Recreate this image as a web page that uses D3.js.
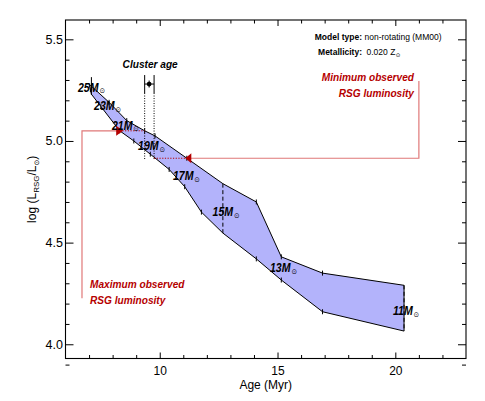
<!DOCTYPE html>
<html>
<head>
<meta charset="utf-8">
<script src="https://cdn.jsdelivr.net/npm/d3@7"></script>
<style>
  body { margin: 0; background: #fff; }
  svg { font-family: "Liberation Sans", Arial, sans-serif; }
</style>
</head>
<body>
<script>
// band edges: [age (Myr), log L]
var upperEdge = [
  [7.0, 5.28], [7.85, 5.19], [8.6, 5.10], [9.36, 5.05], [9.8, 5.025],
  [11.15, 4.915], [12.68, 4.79], [14.1, 4.70], [15.16, 4.43],
  [16.91, 4.35], [20.37, 4.29]
];
var lowerEdge = [
  [20.37, 4.065], [16.91, 4.16], [15.16, 4.316], [14.1, 4.42],
  [12.68, 4.547], [11.77, 4.65], [11.06, 4.775], [10.4, 4.86],
  [9.6, 4.935], [8.9, 5.0], [8.3, 5.05], [7.5, 5.17], [7.1, 5.23]
];
var masses = ["25", "23", "21", "19", "17", "15", "13", "11"];
var massLabelAt = [
  [6.53, 5.241], [7.21, 5.152], [7.97, 5.054], [9.08, 4.955],
  [10.56, 4.807], [12.24, 4.629], [14.68, 4.355], [19.9, 4.143]
];
// mass tracks drawn across the band
var dashedTracks = [[12.68, 4.79, 4.547], [20.37, 4.29, 4.065]];
var track25 = [7.1, 5.314, 5.226];

var clusterAge = 9.55, clusterAgeLo = 9.36, clusterAgeHi = 9.76;
var clusterAgeL = 5.28, clusterLineBottom = 4.905;

var maxObsL = 5.05, maxObsAge = 8.3, maxLineAge = 6.7, maxLineBottom = 4.226;
var minObsL = 4.915, minObsAge = 11.15, minLineAge = 21.0, minLineTop = 5.295;

var xMajor = [10, 15, 20];
var xMinor = d3.range(7, 23);
var yMajor = [4.0, 4.5, 5.0, 5.5];
var yMinor = d3.range(39, 56).map(d => d / 10);

var w = 485, h = 401;
var plotLeft = 65.5, plotRight = 466, plotTop = 20, plotBottom = 358.5;

var x = d3.scaleLinear().domain([6, 23]).range([plotLeft, plotRight]);
var y = d3.scaleLinear().domain([3.93, 5.595]).range([plotBottom, plotTop]);

var svg = d3.select("body").append("svg")
    .attr("width", w)
    .attr("height", h);

var red = "#b50000", lightRed = "#e07878";

// band
var band = upperEdge.concat(lowerEdge);
svg.append("path")
    .attr("d", d3.line().x(d => x(d[0])).y(d => y(d[1]))(band) + "Z")
    .attr("fill", "#b3b3fb")
    .attr("stroke", "#000")
    .attr("stroke-width", 1);

// little vertical ticks at the vertices
svg.selectAll(".vtick")
    .data(band.filter(d => d[0] > 7.2 && d[0] < 20 && d[0] != 12.68))
    .enter().append("line")
    .attr("x1", d => x(d[0])).attr("x2", d => x(d[0]))
    .attr("y1", d => y(d[1]) - 2.5).attr("y2", d => y(d[1]) + 2.5)
    .attr("stroke", "#000");

svg.selectAll(".dtrack")
    .data(dashedTracks)
    .enter().append("line")
    .attr("x1", d => x(d[0])).attr("x2", d => x(d[0]))
    .attr("y1", d => y(d[1])).attr("y2", d => y(d[2]))
    .attr("stroke", "#000")
    .attr("stroke-dasharray", "4,2.5");

svg.append("line")
    .attr("x1", x(track25[0])).attr("x2", x(track25[0]))
    .attr("y1", y(track25[1])).attr("y2", y(track25[2]))
    .attr("stroke", "#000");

// cluster age
[clusterAgeLo, clusterAgeHi].forEach(a => {
  svg.append("line")
      .attr("x1", x(a)).attr("x2", x(a))
      .attr("y1", y(clusterAgeL) - 9).attr("y2", y(clusterAgeL) + 9)
      .attr("stroke", "#000");
  svg.append("line")
      .attr("x1", x(a)).attr("x2", x(a))
      .attr("y1", y(clusterAgeL) + 9).attr("y2", y(clusterLineBottom))
      .attr("stroke", "#000")
      .attr("stroke-dasharray", "1,1.5");
});
svg.append("line")
    .attr("x1", x(clusterAgeLo)).attr("x2", x(clusterAgeHi))
    .attr("y1", y(clusterAgeL)).attr("y2", y(clusterAgeL))
    .attr("stroke", "#000");
svg.append("circle")
    .attr("cx", x(clusterAge)).attr("cy", y(clusterAgeL))
    .attr("r", 2.4)
    .attr("fill", "#000");
svg.append("line")
    .attr("x1", x(clusterAge)).attr("x2", x(clusterAge))
    .attr("y1", y(clusterAgeL) - 3.5).attr("y2", y(clusterAgeL) + 3.5)
    .attr("stroke", "#000");

// observed luminosity limits
svg.append("polyline")
    .attr("points", [[x(maxLineAge), y(maxLineBottom)], [x(maxLineAge), y(maxObsL)], [x(maxObsAge), y(maxObsL)]].join(" "))
    .attr("fill", "none").attr("stroke", lightRed).attr("stroke-width", 1.2);
svg.append("line")
    .attr("x1", x(maxObsAge)).attr("x2", x(clusterAgeLo))
    .attr("y1", y(maxObsL)).attr("y2", y(maxObsL))
    .attr("stroke", red).attr("stroke-dasharray", "1.2,1.5");
svg.append("polyline")
    .attr("points", [[x(minLineAge), y(minLineTop)], [x(minLineAge), y(minObsL)], [x(minObsAge), y(minObsL)]].join(" "))
    .attr("fill", "none").attr("stroke", lightRed).attr("stroke-width", 1.2);
svg.append("line")
    .attr("x1", x(clusterAgeHi)).attr("x2", x(minObsAge))
    .attr("y1", y(minObsL)).attr("y2", y(minObsL))
    .attr("stroke", red).attr("stroke-dasharray", "1.2,1.5");

// triangles
var mx = x(maxObsAge), my = y(maxObsL);
svg.append("path")
    .attr("d", `M${mx - 3.5},${my - 5}L${mx + 3.5},${my}L${mx - 3.5},${my + 5}Z`)
    .attr("fill", red);
var nx = x(minObsAge), ny = y(minObsL);
svg.append("path")
    .attr("d", `M${nx + 4.5},${ny - 5}L${nx - 1.5},${ny}L${nx + 4.5},${ny + 5}Z`)
    .attr("fill", red);

// italic labels, narrowed a little
const label = (txt, px, py, anchor, fill, size) => {
  var t = svg.append("text")
      .attr("transform", "translate(" + px + "," + py + ") scale(0.88,1)")
      .attr("text-anchor", anchor)
      .attr("font-weight", "bold")
      .attr("font-style", "italic")
      .attr("font-size", size)
      .attr("fill", fill)
      .text(txt);
  return t;
};

label("Cluster age", x(clusterAge) + 1, 68, "middle", "#000", 11.5);
label("Minimum observed", 414, 81, "end", red, 11.5);
label("RSG luminosity", 414, 96.7, "end", red, 11.5);
label("Maximum observed", 90, 288.3, "start", red, 11.5);
label("RSG luminosity", 90, 303.5, "start", red, 11.5);

masses.forEach((m, i) => {
  var t = label(m + "M", x(massLabelAt[i][0]), y(massLabelAt[i][1]), "start", "#000", 12);
  t.append("tspan")
      .attr("font-family", "DejaVu Sans")
      .attr("font-style", "normal")
      .attr("font-weight", "normal")
      .attr("font-size", 7.5)
      .attr("dx", 1)
      .attr("dy", 1.5)
      .text("\u2299");
});

// model info
var info = [["Model type:", "non-rotating (MM00)"], ["Metallicity:", "0.020 Z"]];
info.forEach((r, i) => {
  var by = 40 + i * 14.5;
  svg.append("text")
      .attr("x", 362).attr("y", by)
      .attr("text-anchor", "end")
      .attr("font-weight", "bold")
      .attr("font-size", 8.5)
      .text(r[0]);
  var t = svg.append("text")
      .attr("x", 364.5 + i * 2).attr("y", by)
      .attr("font-size", 8.5)
      .text(r[1]);
  if (i == 1) {
    t.append("tspan")
        .attr("font-family", "DejaVu Sans")
        .attr("font-size", 5.5)
        .attr("dx", 0.5)
        .attr("dy", 2)
        .text("\u2299");
  }
});

// axes, ticks inward
const styleAxis = (g) => {
  g.select(".domain").remove();
  g.selectAll("line").attr("stroke", "#000");
  g.selectAll("text").attr("font-size", 12.5).attr("fill", "#000")
      .attr("font-family", "Liberation Sans, Arial, sans-serif");
};

svg.append("g").attr("transform", "translate(0," + plotBottom + ")")
    .call(d3.axisBottom(x).tickValues(xMajor).tickSize(-6).tickPadding(7.5).tickFormat(d3.format("d")))
    .call(styleAxis)
    .call(g => g.selectAll("text").attr("font-size", 12));
svg.append("g").attr("transform", "translate(0," + plotBottom + ")")
    .call(d3.axisBottom(x).tickValues(xMinor.filter(d => xMajor.indexOf(d) < 0)).tickSize(-3.5).tickFormat(""))
    .call(styleAxis);
svg.append("g").attr("transform", "translate(0," + plotTop + ")")
    .call(d3.axisTop(x).tickValues(xMajor).tickSize(-6).tickFormat(""))
    .call(styleAxis);
svg.append("g").attr("transform", "translate(0," + plotTop + ")")
    .call(d3.axisTop(x).tickValues(xMinor.filter(d => xMajor.indexOf(d) < 0)).tickSize(-3.5).tickFormat(""))
    .call(styleAxis);

const isMajorY = (d) => yMajor.some(v => Math.abs(v - d) < 1e-6);
svg.append("g").attr("transform", "translate(" + plotLeft + ",0)")
    .call(d3.axisLeft(y).tickValues(yMajor).tickSize(-8).tickPadding(2.5).tickFormat(d3.format(".1f")))
    .call(styleAxis);
svg.append("g").attr("transform", "translate(" + plotLeft + ",0)")
    .call(d3.axisLeft(y).tickValues(yMinor.filter(d => !isMajorY(d))).tickSize(-4).tickFormat(""))
    .call(styleAxis);
svg.append("g").attr("transform", "translate(" + plotRight + ",0)")
    .call(d3.axisRight(y).tickValues(yMajor).tickSize(-8).tickFormat(""))
    .call(styleAxis);
svg.append("g").attr("transform", "translate(" + plotRight + ",0)")
    .call(d3.axisRight(y).tickValues(yMinor.filter(d => !isMajorY(d))).tickSize(-4).tickFormat(""))
    .call(styleAxis);

svg.append("rect")
    .attr("x", plotLeft).attr("y", plotTop)
    .attr("width", plotRight - plotLeft).attr("height", plotBottom - plotTop)
    .attr("fill", "none")
    .attr("stroke", "#000")
    .attr("stroke-width", 1.1);

// axis titles
svg.append("text")
    .attr("x", (plotLeft + plotRight) / 2).attr("y", 388.5)
    .attr("text-anchor", "middle")
    .attr("font-size", 12)
    .text("Age (Myr)");

var yt = svg.append("text")
    .attr("transform", "translate(36," + (plotTop + plotBottom) / 2 + ") rotate(-90)")
    .attr("text-anchor", "middle")
    .attr("font-size", 12);
yt.append("tspan").text("log (L");
yt.append("tspan").attr("font-size", 8).attr("dy", 3).text("RSG");
yt.append("tspan").attr("dy", -3).text("/L");
yt.append("tspan").attr("font-family", "DejaVu Sans").attr("font-size", 7).attr("dy", 3).text("\u2299");
yt.append("tspan").attr("dy", -3).text(")");
</script>
</body>
</html>
